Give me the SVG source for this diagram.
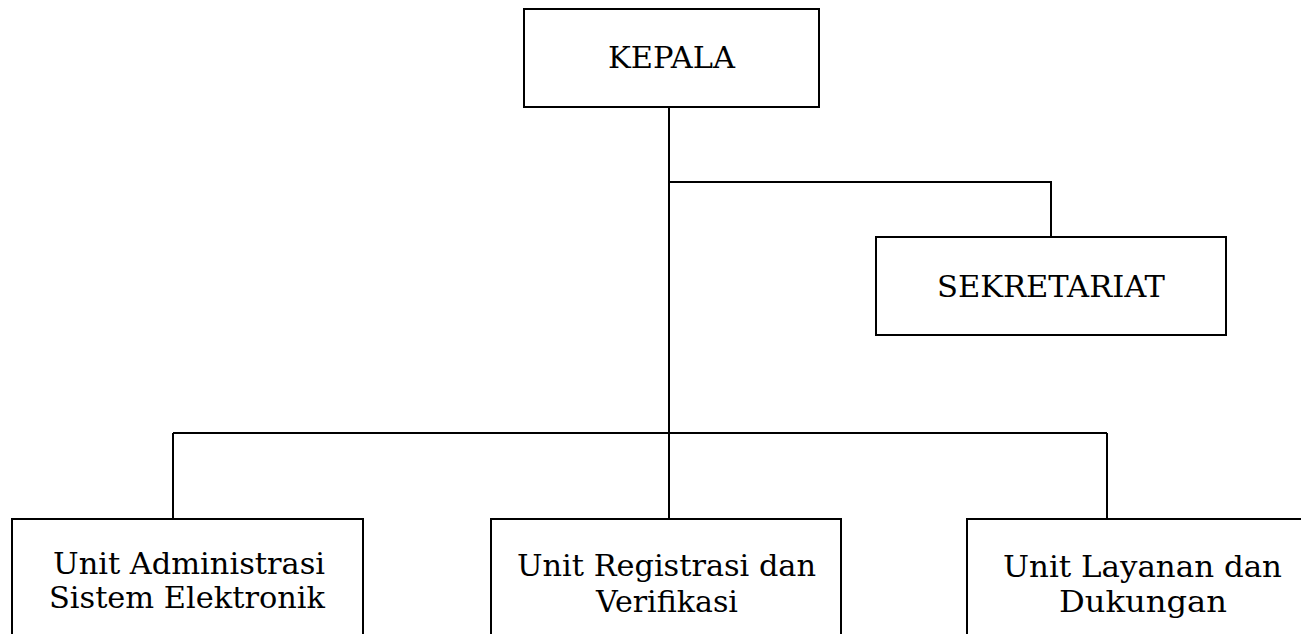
<svg xmlns="http://www.w3.org/2000/svg" width="1301" height="634" viewBox="0 0 1301 634">
<style>
.box{fill:#fff;stroke:#000;stroke-width:2}
.ln{fill:none;stroke:#000;stroke-width:2}
text{font-family:"DejaVu Serif","Liberation Serif",serif;font-size:29px;fill:#000}
</style>
<rect width="1301" height="634" fill="#fff"/>
<g id="connectors">
<path class="ln" d="M669 107 V519"/>
<path class="ln" d="M669 182 H1051 V237"/>
<path class="ln" d="M173 433 H1107"/>
<path class="ln" d="M173 433 V519"/>
<path class="ln" d="M1107 433 V519"/>
</g>
<g id="kepala">
<rect class="box" x="524" y="9" width="295" height="98"/>
<text x="608" y="68" textLength="127" lengthAdjust="spacingAndGlyphs">KEPALA</text>
</g>
<g id="sekretariat">
<rect class="box" x="876" y="237" width="350" height="98"/>
<text x="937" y="297" textLength="228" lengthAdjust="spacingAndGlyphs">SEKRETARIAT</text>
</g>
<g id="unit-administrasi">
<rect class="box" x="12" y="519" width="351" height="130"/>
<text x="53" y="574" textLength="272" lengthAdjust="spacingAndGlyphs">Unit Administrasi</text>
<text x="49" y="608" textLength="276" lengthAdjust="spacingAndGlyphs">Sistem Elektronik</text>
</g>
<g id="unit-registrasi">
<rect class="box" x="491" y="519" width="350" height="130"/>
<text x="517" y="576" textLength="299" lengthAdjust="spacingAndGlyphs">Unit Registrasi dan</text>
<text x="596" y="612" textLength="142" lengthAdjust="spacingAndGlyphs">Verifikasi</text>
</g>
<g id="unit-layanan">
<rect class="box" x="967" y="519" width="350" height="130"/>
<text x="1003" y="577" textLength="279" lengthAdjust="spacingAndGlyphs">Unit Layanan dan</text>
<text x="1059" y="612" textLength="168" lengthAdjust="spacingAndGlyphs">Dukungan</text>
</g>
</svg>
